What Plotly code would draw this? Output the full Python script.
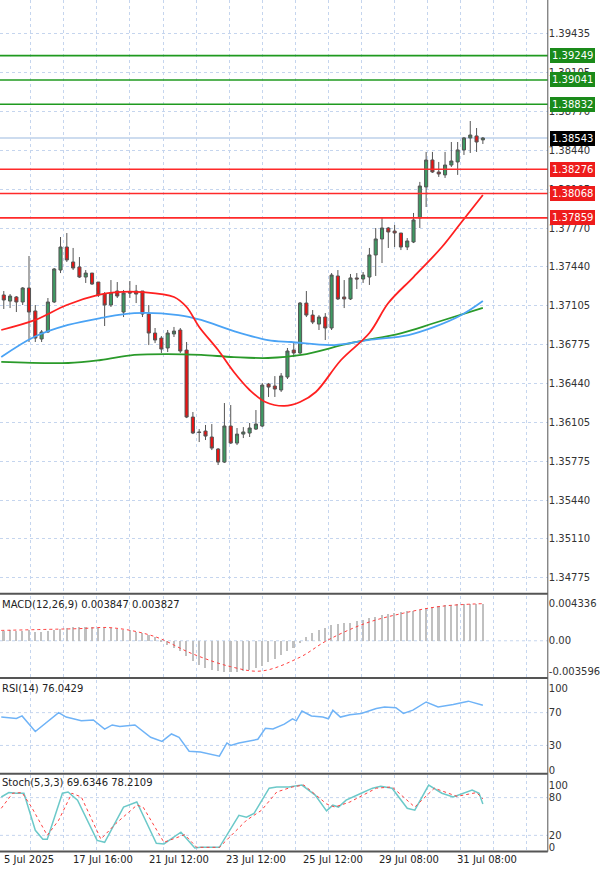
import plotly.graph_objects as go

bars = list(range(77))
opens = [1.37198,1.37146,1.37181,1.37138,1.37258,1.37061,1.36821,1.36881,1.37138,1.37412,
         1.37609,1.37481,1.37438,1.37352,1.37386,1.37309,1.37206,1.37112,1.37232,1.37052,
         1.37223,1.37232,1.37232,1.37035,1.36872,1.36829,1.36744,1.36864,1.36898,1.36726,
         1.36152,1.36024,1.36032,1.35981,1.35878,1.35766,1.36075,1.35929,1.36006,1.36015,
         1.36049,1.36075,1.36435,1.36418,1.36384,1.36495,1.36726,1.36701,1.37129,1.37026,
         1.36949,1.37009,1.36915,1.37361,1.37181,1.37164,1.37344,1.37335,1.37352,1.37541,
         1.37678,1.37772,1.37746,1.37729,1.37609,1.37652,1.37858,1.38124,1.38355,1.38252,
         1.38227,1.38312,1.38338,1.38441,1.38544,1.38561,1.38527]
highs = [1.37232,1.37206,1.37189,1.37266,1.37532,1.37112,1.36898,1.37172,1.37429,1.37695,
         1.37729,1.37601,1.37523,1.37412,1.37386,1.37309,1.37223,1.37326,1.37309,1.37241,
         1.37318,1.37284,1.37232,1.37112,1.36915,1.36846,1.36898,1.36924,1.36915,1.36795,
         1.36195,1.36049,1.36084,1.36092,1.35886,1.36272,1.36255,1.36058,1.36066,1.36101,
         1.36212,1.36444,1.36444,1.36503,1.36529,1.36744,1.36786,1.37138,1.37232,1.37069,
         1.37026,1.37043,1.37386,1.37412,1.37326,1.37378,1.37386,1.37395,1.37601,1.37772,
         1.37866,1.37781,1.37798,1.37729,1.37686,1.37901,1.38167,1.38424,1.38424,1.38338,
         1.38424,1.38509,1.38509,1.38552,1.38689,1.38629,1.38552]
lows = [1.37078,1.37086,1.37052,1.37112,1.36795,1.36795,1.36795,1.36872,1.37129,1.37386,
        1.37481,1.37412,1.37344,1.37301,1.37284,1.37181,1.36932,1.37095,1.37172,1.37009,
        1.37172,1.37129,1.37009,1.36769,1.36786,1.36701,1.36709,1.36838,1.36701,1.36143,
        1.36006,1.35938,1.35955,1.35869,1.35741,1.35758,1.35921,1.35912,1.35972,1.35981,
        1.36041,1.36066,1.36324,1.36324,1.36367,1.36478,1.36666,1.36692,1.37009,1.36949,
        1.36898,1.36812,1.36898,1.37155,1.37086,1.37155,1.37249,1.37301,1.37284,1.37361,
        1.37472,1.37601,1.37609,1.37583,1.37583,1.37643,1.37772,1.37952,1.38244,1.38210,
        1.38201,1.38295,1.38227,1.38398,1.38415,1.38424,1.38492]
closes = [1.37155,1.37189,1.37138,1.37258,1.37052,1.36829,1.36881,1.37138,1.37421,1.37609,
          1.37498,1.37429,1.37352,1.37386,1.37292,1.37198,1.37112,1.37215,1.37189,1.37215,
          1.37215,1.37206,1.37035,1.36872,1.36812,1.36735,1.36872,1.36889,1.36718,1.36152,
          1.36015,1.36020,1.35989,1.35886,1.35766,1.36075,1.35929,1.36006,1.36024,1.36058,
          1.36092,1.36426,1.36409,1.36392,1.36504,1.36718,1.36701,1.37129,1.37026,1.36966,
          1.37009,1.36915,1.37369,1.37164,1.37164,1.37344,1.37335,1.37369,1.37541,1.37678,
          1.37772,1.37738,1.37729,1.37609,1.37661,1.37841,1.38132,1.38355,1.38252,1.38235,
          1.38312,1.38346,1.38441,1.38544,1.38569,1.38509,1.38543]

ma_red_x = [-0.4,5,10,15,18,22,27,29,31,34,36.5,39,41.5,44.5,47,49.5,53.5,58,61,65,69.5,72.5,76]
ma_red_y = [1.36898,1.36984,1.37112,1.37198,1.37223,1.37223,1.37181,1.37095,1.36924,1.36726,1.36538,
            1.36384,1.36281,1.36247,1.36281,1.36367,1.36641,1.36872,1.37129,1.37352,1.37609,1.37815,1.38055]
ma_blue_x = [-0.4,4.8,10.2,15.4,20.7,27.7,31.3,36.5,41.9,45.6,52.4,57.8,64.2,68.3,72.6,76]
ma_blue_y = [1.36666,1.36838,1.36941,1.37001,1.37043,1.37026,1.36984,1.36889,1.36812,1.36795,
             1.36769,1.36812,1.36855,1.36924,1.37026,1.37146]
ma_green_x = [-0.4,10.2,15.4,20.7,26,31.3,36.5,41.9,47.2,55.1,63.1,68.3,76]
ma_green_y = [1.36624,1.36615,1.36641,1.36684,1.36692,1.36684,1.36666,1.36658,1.36684,1.36787,
              1.36872,1.36958,1.37087]

res_levels = [1.39249, 1.39041, 1.38832]
sup_levels = [1.38276, 1.38068, 1.37859]
last_price = 1.38543
price_ticks = [1.39770,1.39435,1.39105,1.38770,1.38440,1.38105,1.37770,1.37440,1.37105,
               1.36775,1.36440,1.36105,1.35775,1.35440,1.35110,1.34775]

macd_hist = [0.0011,0.0012,0.0011,0.0011,0.0012,0.0010,0.0010,0.0011,0.0012,0.0014,
             0.0015,0.0016,0.0016,0.0016,0.0016,0.0015,0.0015,0.0015,0.0014,0.0013,
             0.0012,0.0010,0.0009,0.0007,0.0004,-0.0002,-0.0005,-0.0008,-0.0012,-0.0018,
             -0.0024,-0.0028,-0.0032,-0.0034,-0.0035,-0.0036,-0.0036,-0.0036,-0.0035,-0.0034,
             -0.0032,-0.0029,-0.0025,-0.0021,-0.0017,-0.0012,-0.0008,-0.0003,0.0004,0.0009,
             0.0012,0.0015,0.0018,0.0019,0.0020,0.0021,0.0023,0.0024,0.0026,0.0028,
             0.0030,0.0031,0.0032,0.0033,0.0034,0.0035,0.0036,0.0038,0.0039,0.0040,
             0.0041,0.0041,0.0042,0.0042,0.0043,0.0043,0.0043]
macd_sig_x = [-0.4,11.7,17.2,23.9,29.9,36,40.9,47,51.2,57.3,63.4,69.5,76]
macd_sig_y = [0.0012,0.0014,0.0015,0.0005,-0.0015,-0.0030,-0.0035,-0.0019,0.0,0.0020,0.0032,0.0040,0.0043]

rsi_x = [-0.4,2.0,2.9,5.0,8.7,9.9,12.3,14.2,16.0,17.2,18.4,20.8,23.3,25.1,26.6,27.8,29.4,31.2,34.2,
         35.4,36.0,37.3,40.3,41.5,42.7,44.5,45.8,46.4,47.3,48.8,50.6,51.5,52.2,53.4,54.9,56.7,59.1,
         60.4,62.2,63.4,64.9,67.0,68.9,71.3,73.7,75.0,76]
rsi_y = [64.6,63,66,47,70,64.6,60,61,50,55,53,55,40,35,44,40,23,22,17,
         33,30,33,37.5,51,50,56,62.5,60,72,66,64.6,62.5,73,64.6,67.5,69,75,
         77,76,69,73,83,77,80,84,81,79]

st_k_x = [-0.4,0.8,2.0,3.2,5.0,6.2,6.9,9.3,10.2,11.7,14.8,16.0,19.0,21.1,24.2,25.4,28.1,30.3,31.2,
          34.2,37.3,38.5,39.7,42.1,43.3,45.2,47.3,49.4,51.2,52.2,53.1,54.3,56.7,58.5,59.8,61.6,
          64.0,65.2,67.4,69.5,71.3,74.3,75.4,76]
st_k_y = [81,88,87,87,28,14,14,87,89,76,12,9,65,73,7.5,6.4,25,0,1,
          1,52,49,55,95,97,97,100,84,59,68,65,76,87,95,98,95,
          63,60,100,87,81,92,87,70]
st_d_x = [-0.4,1.4,2.9,4.4,6.9,8.7,10.8,12.3,15.4,17.8,21.1,22.1,25.4,26.3,28.7,30.6,31.8,34.2,
          38.5,40.9,43.3,45.8,47.6,51.2,52.5,54.9,59.1,61.6,65.2,68.3,71.9,75.0,76]
st_d_y = [63,87,88,65,20,44,87,81,14,39,68,65,9,12,21,1,1,1,
          44,60,89,97,100,70,65,73,95,97,65,95,82,88,78]

xlabels = ["5 Jul 2025","17 Jul 16:00","21 Jul 12:00","23 Jul 12:00","25 Jul 12:00","29 Jul 08:00","31 Jul 08:00"]
xlabel_pos = [-0.3,10.7,22.7,35,47.2,59.2,71.5]

fig = go.Figure()
GRID = "#c5d5ee"
XR = [-0.6, 86.3]
XD = [0, 0.913]
doms = {"y": [0.3188, 1.0], "y2": [0.2215, 0.3141], "y3": [0.1116, 0.2175], "y4": [0.0219, 0.1082]}

fig.add_trace(go.Candlestick(x=bars, open=opens, high=highs, low=lows, close=closes,
    increasing=dict(fillcolor="#3d9a62", line=dict(color="#555555", width=1)),
    decreasing=dict(fillcolor="#ee1111", line=dict(color="#555555", width=1)),
    whiskerwidth=0, showlegend=False, hoverinfo="skip", xaxis="x", yaxis="y"))
for xs, ys, c in [(ma_green_x, ma_green_y, "#2a9a2a"), (ma_blue_x, ma_blue_y, "#4aa3f5"), (ma_red_x, ma_red_y, "#ff2020")]:
    fig.add_trace(go.Scatter(x=xs, y=ys, mode="lines", line=dict(color=c, width=1.8, shape="spline"),
                             showlegend=False, xaxis="x", yaxis="y"))

fig.add_trace(go.Bar(x=bars, y=macd_hist, marker=dict(color="#c0c0c0", line=dict(width=0)), width=0.25,
                     showlegend=False, xaxis="x2", yaxis="y2"))
fig.add_trace(go.Scatter(x=macd_sig_x, y=macd_sig_y, mode="lines", line=dict(color="#ff4040", width=1, dash="dot", shape="spline"),
                         showlegend=False, xaxis="x2", yaxis="y2"))
fig.add_trace(go.Scatter(x=rsi_x, y=rsi_y, mode="lines", line=dict(color="#6fb3f7", width=1.5),
                         showlegend=False, xaxis="x3", yaxis="y3"))
fig.add_trace(go.Scatter(x=st_k_x, y=st_k_y, mode="lines", line=dict(color="#6cc9c9", width=1.5),
                         showlegend=False, xaxis="x4", yaxis="y4"))
fig.add_trace(go.Scatter(x=st_d_x, y=st_d_y, mode="lines", line=dict(color="#ff4040", width=1, dash="dot"),
                         showlegend=False, xaxis="x4", yaxis="y4"))

tickfont = dict(family="DejaVu Sans", size=10, color="#333333")
xcommon = dict(range=XR, domain=XD, showgrid=True, gridcolor=GRID, griddash="dot", gridwidth=1,
               tick0=4.3, dtick=5.24, showticklabels=False, zeroline=False, ticks="", fixedrange=True,
               rangeslider=dict(visible=False))
ycommon = dict(side="right", showgrid=True, gridcolor=GRID, griddash="dot", zeroline=False,
               tickfont=tickfont, ticks="", showline=False, automargin=False, fixedrange=True)

fig.update_layout(
    width=600, height=869, margin=dict(l=0, r=0, t=0, b=0),
    paper_bgcolor="white", plot_bgcolor="white",
    xaxis=dict(xcommon, anchor="y"),
    xaxis2=dict(xcommon, anchor="y2", matches="x"),
    xaxis3=dict(xcommon, anchor="y3", matches="x"),
    xaxis4=dict(xcommon, anchor="y4", matches="x"),
    yaxis=dict(ycommon, domain=doms["y"], range=[1.34653, 1.39726], tickvals=price_ticks,
               ticktext=[f"{v:.5f}" for v in price_ticks], anchor="x"),
    yaxis2=dict(ycommon, domain=doms["y2"], range=[-0.00414, 0.00518], tickvals=[0.004336, 0.0, -0.003596],
                ticktext=["0.004336", "0.00", "-0.003596"], anchor="x2", showgrid=False),
    yaxis3=dict(ycommon, domain=doms["y3"], range=[-2.4, 109.8], tickvals=[100, 70, 30, 0], showgrid=False,
                ticktext=["100", "70", "30", "0"], anchor="x3"),
    yaxis4=dict(ycommon, domain=doms["y4"], range=[-3.2, 116], tickvals=[100, 80, 20, 0], showgrid=False,
                ticktext=["100", "80", "20", "0"], anchor="x4"),
    bargap=0,
)

shapes = []
def hline(yref, xref, v, color, width=1, dash="solid"):
    shapes.append(dict(type="line", xref=xref + " domain", x0=0, x1=1, yref=yref, y0=v, y1=v,
                       line=dict(color=color, width=width, dash=dash), layer="below"))
hline("y2", "x2", 0, GRID, 1, "dot")
hline("y3", "x3", 70, GRID, 1, "dot"); hline("y3", "x3", 30, GRID, 1, "dot")
hline("y4", "x4", 80, GRID, 1, "dot"); hline("y4", "x4", 20, GRID, 1, "dot")
hline("y", "x", last_price, "#bcd0ea", 1.5)
for v in res_levels:
    shapes.append(dict(type="line", xref="x domain", x0=0, x1=1, yref="y", y0=v, y1=v,
                       line=dict(color="#1f9a1f", width=1.6)))
for v in sup_levels:
    shapes.append(dict(type="line", xref="x domain", x0=0, x1=1, yref="y", y0=v, y1=v,
                       line=dict(color="#ff2a2a", width=1.6)))
for yp in [0.3166, 0.2197, 0.1096, 0.0200]:
    shapes.append(dict(type="line", xref="paper", x0=0, x1=0.913, yref="paper", y0=yp, y1=yp,
                       line=dict(color="#555555", width=2)))
shapes.append(dict(type="line", xref="paper", x0=0.913, x1=0.913, yref="paper", y0=0.02, y1=1,
                   line=dict(color="#555555", width=1)))
fig.update_layout(shapes=shapes)

ann = []
def box(v, bg):
    ann.append(dict(xref="paper", x=0.916, yref="y", y=v, text=f"{v:.5f}", showarrow=False, xanchor="left",
                    yanchor="middle", bgcolor=bg, font=dict(family="DejaVu Sans", size=10, color="white"),
                    borderpad=1, bordercolor=bg))
for v in res_levels:
    box(v, "#1a8a1a")
for v in sup_levels:
    box(v, "#ee1c1c")
box(last_price, "#000000")
for t, yv in [("MACD(12,26,9) 0.003847 0.003827", 0.3135), ("RSI(14) 76.0429", 0.2165),
              ("Stoch(5,3,3) 69.6346 78.2109", 0.1078)]:
    ann.append(dict(xref="paper", x=0, yref="paper", y=yv, text=t, showarrow=False, xanchor="left", yanchor="top",
                    font=dict(family="DejaVu Sans", size=10, color="#222222")))
for t, xp in zip(xlabels, xlabel_pos):
    ann.append(dict(xref="x4", x=xp, yref="paper", y=0.019, text=t, showarrow=False, xanchor="left", yanchor="top",
                    font=dict(family="DejaVu Sans", size=10, color="#222222")))
fig.update_layout(annotations=ann)

fig.write_html("out.html", config={"displayModeBar": False},
               post_script="document.body.style.margin='0';document.body.style.overflow='hidden';")
